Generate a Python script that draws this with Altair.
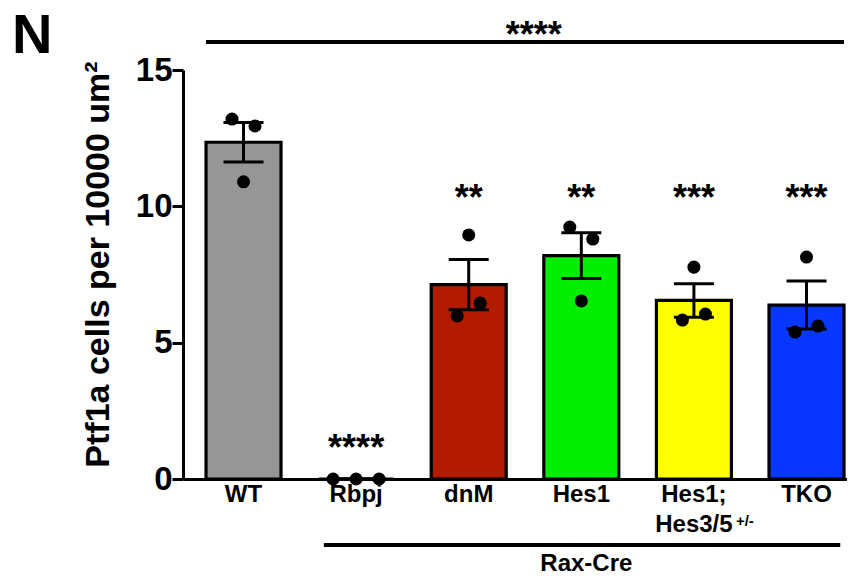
import altair as alt
import pandas as pd

# ---- data ----
groups = ["WT", "Rbpj", "dnM", "Hes1", "Hes1;Hes3/5", "TKO"]
bar_colors = ["#969696", "transparent", "#B31B00", "#00EE00", "#FFFF00", "#0838FF"]

wt_cells = [13.2, 12.95, 10.9]
rbpj_cells = [0.0, 0.0, 0.0]
dnm_cells = [8.95, 6.45, 5.98]
hes1_cells = [9.24, 8.8, 6.53]
hes135_cells = [7.77, 5.83, 6.05]
tko_cells = [8.14, 5.39, 5.61]

# order of each dot inside its group (left / middle / right)
wt_slot = [-1, 1, 0]
rbpj_slot = [-2, 0, 2]
dnm_slot = [0, 1, -1]
hes1_slot = [-1, 1, 0]
hes135_slot = [0, -1, 1]
tko_slot = [0, -1, 1]

star_groups = ["dnM", "Hes1", "Hes1;Hes3/5", "TKO"]
star_labels = ["**", "**", "***", "***"]
rbpj_star = "****"
overall_star = "****"

FONT = "Liberation Sans"

rows = []
for g, vals, slots in zip(
    groups,
    [wt_cells, rbpj_cells, dnm_cells, hes1_cells, hes135_cells, tko_cells],
    [wt_slot, rbpj_slot, dnm_slot, hes1_slot, hes135_slot, tko_slot],
):
    for v, s in zip(vals, slots):
        rows.append({"group": g, "cells": v, "slot": s})
df = pd.DataFrame(rows)

W, H = 664, 409
SLOT_FRAC = 11.5 / 75.0  # dot spacing as a fraction of the bar band

xscale = alt.Scale(domain=groups, paddingInner=0.334, paddingOuter=0.1155, align=0.885)
yscale = alt.Scale(domain=[0, 15], nice=False, zero=True)

x_axis = alt.Axis(
    title=None,
    ticks=False,
    domainWidth=3,
    domainColor="black",
    labelFontSize=24,
    labelFont=FONT,
    labelFontWeight="bold",
    labelColor="black",
    labelPadding=3,
    labelAngle=0,
    labelLineHeight=30,
    zindex=0,
    labelExpr="datum.value == 'Hes1;Hes3/5' ? ['Hes1;', 'Hes3/5'] : datum.value",
)


def xe(band=0.5):
    return alt.X("group:N", sort=groups, scale=xscale, axis=x_axis, bandPosition=band, title=None)


y_axis = alt.Axis(
    title="Ptf1a cells per 10000 um²",
    values=[0, 5, 10, 15],
    grid=False,
    domainWidth=3,
    domainColor="black",
    tickWidth=3,
    tickSize=11,
    tickColor="black",
    labelFontSize=33,
    labelFont=FONT,
    labelFontWeight="bold",
    labelColor="black",
    labelPadding=0,
    titleFontSize=34,
    titleFont=FONT,
    titleFontWeight="bold",
    titleColor="black",
    titlePadding=20,
    titleY=194,
    zindex=0,
)


def ye(field):
    return alt.Y(field, scale=yscale, axis=y_axis, stack=None)


base = alt.Chart(df)

bars = base.transform_aggregate(
    mean="mean(cells)", groupby=["group"]
).mark_bar(stroke="black", strokeWidth=3.2).encode(
    x=xe(),
    y=ye("mean:Q"),
    color=alt.Color("group:N", scale=alt.Scale(domain=groups, range=bar_colors), legend=None),
)

err = base.transform_aggregate(
    mean="mean(cells)", se="stderr(cells)", groupby=["group"]
).transform_calculate(lo="datum.mean - datum.se", hi="datum.mean + datum.se")

err_rule = err.mark_rule(color="black", strokeWidth=3).encode(
    x=xe(), y=ye("lo:Q"), y2="hi:Q"
)
cap_hi = err.mark_tick(color="black", thickness=3, size=40, opacity=1).encode(
    x=xe(), y=ye("hi:Q")
)
cap_lo = err.mark_tick(color="black", thickness=3, size=40, opacity=1).encode(
    x=xe(), y=ye("lo:Q")
)

point_layers = []
for s in sorted(set(df["slot"])):
    point_layers.append(
        base.transform_filter(alt.datum.slot == int(s))
        .mark_circle(size=170, color="black", opacity=1)
        .encode(x=xe(0.5 + s * SLOT_FRAC), y=ye("cells:Q"))
    )

stars_df = pd.DataFrame({"group": star_groups, "label": star_labels})
stars = alt.Chart(stars_df).mark_text(
    fontSize=36, font=FONT, fontWeight="bold", color="black", baseline="alphabetic"
).encode(x=xe(), y=alt.YDatum(9.85, scale=yscale), text="label:N")

rbpj_df = pd.DataFrame({"group": ["Rbpj"], "label": [rbpj_star]})
rbpj_txt = alt.Chart(rbpj_df).mark_text(
    fontSize=36, font=FONT, fontWeight="bold", color="black", baseline="alphabetic"
).encode(x=xe(), y=alt.YDatum(0.7, scale=yscale), text="label:N")

top_df = pd.DataFrame({"group": ["WT"], "group_end": ["TKO"]})
top_line = alt.Chart(top_df).mark_rule(color="black", strokeWidth=4).encode(
    x=xe(0),
    x2=alt.X2("group_end", bandPosition=1, title=None),
    y=alt.value(-28),
)
top_txt_df = pd.DataFrame({"group": ["dnM"], "label": [overall_star]})
top_txt = alt.Chart(top_txt_df).mark_text(
    fontSize=36, font=FONT, fontWeight="bold", color="black", baseline="alphabetic", dx=65
).encode(x=xe(), y=alt.value(-23), text="label:N")

rax_df = pd.DataFrame({"group": ["Rbpj"], "group_end": ["TKO"]})
rax_line = alt.Chart(rax_df).mark_rule(color="black", strokeWidth=4).encode(
    x=xe(0.07),
    x2=alt.X2("group_end", bandPosition=0.95, title=None),
    y=alt.value(475),
)
rax_txt_df = pd.DataFrame({"group": ["Hes1"], "label": ["Rax-Cre"]})
rax_txt = alt.Chart(rax_txt_df).mark_text(
    fontSize=24, font=FONT, fontWeight="bold", color="black", baseline="alphabetic", dx=5
).encode(x=xe(), y=alt.value(501), text="label:N")

sup_df = pd.DataFrame({"group": ["Hes1;Hes3/5"], "label": ["+/-"]})
sup_txt = alt.Chart(sup_df).mark_text(
    fontSize=15, font=FONT, fontWeight="bold", color="black", baseline="middle", dx=51
).encode(x=xe(), y=alt.value(451), text="label:N")

panel_df = pd.DataFrame({"label": ["N"]})
panel_txt = alt.Chart(panel_df).mark_text(
    fontSize=56, font=FONT, fontWeight="bold", color="black", baseline="alphabetic", align="left"
).encode(x=alt.value(-171), y=alt.value(-17), text="label:N")

chart = alt.layer(
    bars, err_rule, cap_hi, cap_lo, *point_layers, stars, rbpj_txt,
    top_line, top_txt, rax_line, rax_txt, sup_txt, panel_txt
).properties(
    width=W,
    height=H,
    padding={"left": 175, "top": 62, "right": 0, "bottom": 98},
    autosize=alt.AutoSizeParams(type="none"),
).configure_view(stroke=None)

chart.save("out.html", embed_options={"renderer": "svg", "actions": False})
